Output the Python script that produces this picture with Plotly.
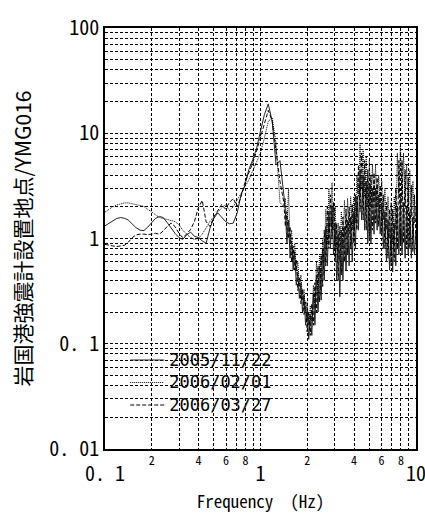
import plotly.graph_objects as go

# ---------------- data ----------------
freq = [
    0.100, 0.106, 0.112, 0.119, 0.126, 0.133, 0.141, 0.150, 0.158, 0.168,
    0.178, 0.188, 0.200, 0.211, 0.224, 0.237, 0.251, 0.266, 0.282, 0.299,
    0.316, 0.335, 0.355, 0.376, 0.398, 0.422, 0.447, 0.473, 0.501, 0.531,
    0.562, 0.596, 0.631, 0.668, 0.708, 0.750, 0.794, 0.841, 0.891, 0.944,
    1.000, 1.059, 1.122, 1.189, 1.259, 1.334, 1.413,
    1.445, 1.479, 1.514, 1.549, 1.585, 1.622, 1.660, 1.698, 1.738, 1.778,
    1.820, 1.862, 1.905, 1.950, 1.995, 2.042, 2.089, 2.138, 2.188, 2.239,
    2.291, 2.344, 2.399, 2.455, 2.512, 2.570, 2.630, 2.692, 2.754, 2.818,
    2.884, 2.951, 3.020, 3.090, 3.162, 3.236, 3.311, 3.388, 3.467, 3.548,
    3.631, 3.715, 3.802, 3.890, 3.981, 4.074, 4.169, 4.266, 4.365, 4.467,
    4.571, 4.677, 4.786, 4.898, 5.012, 5.129, 5.248, 5.370, 5.495, 5.623,
    5.754, 5.888, 6.026, 6.166, 6.310, 6.457, 6.607, 6.761, 6.918, 7.079,
    7.244, 7.413, 7.586, 7.762, 7.943, 8.128, 8.318, 8.511, 8.710, 8.913,
    9.120, 9.333, 9.550, 9.772, 10.00,
]

ratio_20051122 = [
    1.32, 1.40, 1.48, 1.55, 1.58, 1.56, 1.50, 1.38, 1.27, 1.20,
    1.19, 1.28, 1.42, 1.55, 1.62, 1.58, 1.42, 1.25, 1.12, 1.02,
    0.98, 1.08, 1.15, 1.05, 1.02, 0.95, 0.90, 1.25, 1.55, 1.75,
    1.60, 1.45, 1.38, 1.40, 1.75, 2.60, 3.20, 4.50, 5.60, 7.20,
    10.5, 15.0, 19.0, 13.0, 5.0, 5.5, 2.6,
    1.8, 0.9, 1.5, 0.65, 0.95, 0.50, 0.75, 0.36, 0.48, 0.27,
    0.38, 0.20, 0.29, 0.15, 0.21, 0.11, 0.19, 0.12, 0.30, 0.15,
    0.45, 0.20, 0.55, 0.26, 0.80, 0.40, 1.3, 0.55, 1.8, 0.80,
    2.0, 0.70, 1.4, 0.40, 1.1, 0.28, 1.2, 0.40, 1.3, 0.50,
    1.5, 0.55, 1.6, 0.60, 1.8, 0.80, 2.5, 1.2, 4.5, 1.5,
    4.0, 1.2, 3.5, 0.90, 3.2, 0.90, 3.0, 1.1, 3.0, 1.2,
    2.6, 1.1, 2.2, 0.80, 1.8, 0.60, 1.5, 0.50, 1.3, 0.48,
    1.4, 0.55, 2.0, 0.70, 2.5, 0.70, 2.2, 0.65, 2.0, 0.70,
    1.8, 0.65, 1.6, 0.70, 1.2,
]

ratio_20060201 = [
    1.78, 1.90, 2.00, 2.08, 2.14, 2.18, 2.18, 2.14, 2.10, 2.08,
    2.02, 1.90, 1.78, 1.66, 1.58, 1.55, 1.52, 1.50, 1.45, 1.35,
    1.20, 1.10, 1.02, 0.98, 1.00, 1.10, 1.28, 1.45, 1.62, 1.80,
    1.95, 2.10, 1.85, 2.00, 2.30, 2.70, 3.10, 3.60, 4.40, 5.20,
    6.50, 9.00, 13.0, 14.0, 8.0, 2.2, 2.0,
    2.4, 1.2, 3.0, 0.9, 1.2, 0.60, 0.90, 0.50, 0.60, 0.35,
    0.45, 0.26, 0.33, 0.20, 0.25, 0.15, 0.23, 0.16, 0.36, 0.22,
    0.60, 0.30, 0.72, 0.40, 1.0, 0.60, 1.9, 0.90, 3.0, 1.3,
    3.4, 1.2, 2.0, 0.80, 1.4, 0.60, 1.8, 0.80, 2.3, 1.0,
    2.4, 1.1, 2.5, 1.2, 2.5, 1.4, 4.0, 2.5, 8.0, 3.0,
    7.0, 2.5, 6.0, 2.0, 5.5, 2.0, 5.0, 2.2, 5.0, 2.0,
    4.0, 1.8, 3.5, 1.5, 3.0, 1.2, 2.5, 1.0, 2.2, 0.90,
    2.5, 1.2, 6.5, 2.5, 8.0, 2.2, 6.5, 2.0, 5.0, 1.8,
    4.5, 1.6, 3.5, 1.4, 2.0,
]

ratio_20060327 = [
    0.88, 0.86, 0.85, 0.84, 0.85, 0.86, 0.92, 1.02, 1.08, 1.10,
    1.10, 1.09, 1.10, 1.12, 1.10, 1.18, 1.30, 1.40, 1.30, 1.12,
    1.02, 1.10, 1.22, 1.45, 1.95, 2.30, 1.45, 1.30, 1.60, 1.85,
    2.10, 1.90, 2.20, 2.40, 2.00, 2.50, 3.40, 4.20, 5.20, 6.80,
    9.00, 12.5, 16.5, 13.0, 7.0, 3.5, 2.2,
    1.3, 1.8, 1.0, 1.3, 0.60, 0.85, 0.50, 0.62, 0.32, 0.42,
    0.24, 0.33, 0.19, 0.25, 0.13, 0.20, 0.12, 0.24, 0.15, 0.38,
    0.20, 0.55, 0.25, 0.70, 0.35, 1.2, 0.55, 2.0, 0.80, 2.6,
    1.0, 2.2, 0.60, 1.4, 0.40, 1.3, 0.45, 1.6, 0.60, 1.9,
    0.70, 2.0, 0.80, 2.1, 0.90, 2.6, 1.2, 5.0, 1.8, 6.5,
    1.5, 5.5, 1.2, 4.5, 1.0, 4.0, 1.2, 4.2, 1.4, 3.8,
    1.3, 3.2, 1.1, 2.6, 0.80, 2.2, 0.65, 1.9, 0.55, 1.9,
    0.60, 3.0, 0.80, 5.5, 0.90, 5.5, 0.90, 4.5, 0.80, 3.8,
    0.80, 3.2, 0.75, 2.6, 1.0,
]

series_names = ["2005/11/22", "2006/02/01", "2006/03/27"]

x_tick_vals = [0.1, 0.2, 0.4, 0.6, 0.8, 1, 2, 4, 6, 8, 10]
x_tick_text = ["0. 1", "2", "4", "6", "8", "1", "2", "4", "6", "8", "10"]
x_major = [0.1, 1, 10]
x_minor_vals = [0.2, 0.3, 0.4, 0.5, 0.6, 0.7, 0.8, 0.9,
                2, 3, 4, 5, 6, 7, 8, 9]

y_tick_vals = [0.01, 0.1, 1, 10, 100]
y_tick_text = ["0. 01", "0. 1", "1", "10", "100"]
y_minor_vals = [0.02, 0.03, 0.04, 0.05, 0.06, 0.07, 0.08, 0.09,
                0.2, 0.3, 0.4, 0.5, 0.6, 0.7, 0.8, 0.9,
                2, 3, 4, 5, 6, 7, 8, 9,
                20, 30, 40, 50, 60, 70, 80, 90]

# ---------------- figure ----------------
MONO = "Noto Sans Mono CJK JP, DejaVu Sans Mono"
LEG = "DejaVu Sans Mono"
fig = go.Figure()
styles = [("solid", "#222222"), ("1px,1px", "#000000"), ("4px,2px", "#000000")]
for name, vals, (dash, col) in zip(series_names,
                                   [ratio_20051122, ratio_20060201, ratio_20060327],
                                   styles):
    fig.add_trace(go.Scatter(
        x=freq, y=vals, mode="lines",
        name="<span style='font-size:17px'>%s</span>" % name,
        line=dict(color=col, width=1, dash=dash)))

x_text = []
for v, t in zip(x_tick_vals, x_tick_text):
    if v in x_major:
        x_text.append("<br><span style='font-size:20px'>%s</span>" % t)
    else:
        x_text.append(t)

grid = dict(showgrid=True, gridcolor="#000000", gridwidth=1, griddash="3px,2px")

fig.update_layout(
    width=425, height=519,
    margin=dict(l=105, r=9, t=28, b=70),
    paper_bgcolor="white", plot_bgcolor="white",
    font=dict(family=MONO, color="black"),
    showlegend=True,
    legend=dict(x=0.065, y=0.25, xanchor="left", yanchor="top",
                bgcolor="rgba(255,255,255,0)", borderwidth=0,
                font=dict(family=LEG, size=15), tracegroupgap=0,
                itemwidth=34),
    xaxis=dict(type="log", range=[-1, 1], tickmode="array",
               tickvals=x_tick_vals, ticktext=x_text, tickangle=0,
               tickfont=dict(family=MONO, size=12), automargin=False,
               ticklabeloverflow="allow",
               ticks="", showline=True, linecolor="black", linewidth=1.5,
               mirror=True, zeroline=False,
               minor=dict(tickvals=x_minor_vals, **grid),
               title=dict(text="Frequency\u00a0\u00a0(Hz)",
                          font=dict(family=MONO, size=17), standoff=10),
               **grid),
    yaxis=dict(type="log", range=[-2, 2], tickmode="array",
               tickvals=y_tick_vals, ticktext=y_tick_text,
               tickfont=dict(family=MONO, size=20), automargin=False,
               ticklabeloverflow="allow",
               ticks="", showline=True, linecolor="black", linewidth=1.5,
               mirror=True, zeroline=False,
               minor=dict(tickvals=y_minor_vals, **grid),
               title=dict(text="岩国港強震計設置地点/YMG016",
                          font=dict(family="Noto Sans CJK JP", size=21),
                          standoff=12),
               **grid),
)

fig.write_html("out.html", config={"displayModeBar": False},
               post_script="document.body.style.margin='0px';")
